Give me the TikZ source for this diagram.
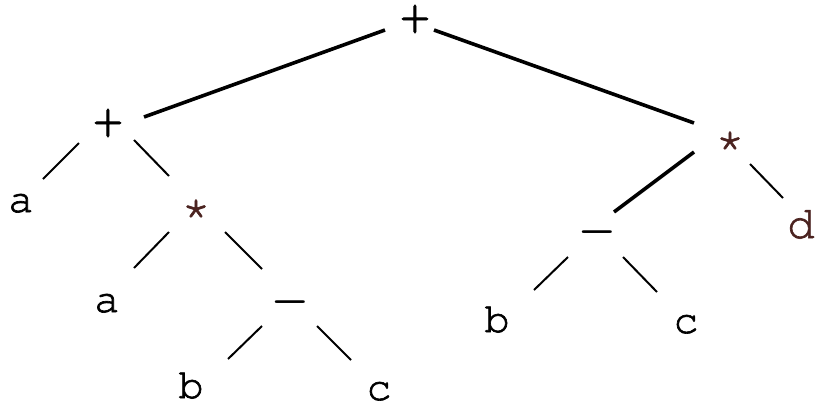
\documentclass[tikz,border=0pt]{standalone}
\usetikzlibrary{calc}
\definecolor{inkbrown}{RGB}{75,35,32}
\newcommand{\courierat}[1]{\fontencoding{T1}\fontfamily{pcr}\fontsize{#1}{#1}\selectfont}
\newcommand{\heavyink}[1]{\special{pdf:literal direct 2 Tr 0.65 w}#1\special{pdf:literal direct 0 Tr}}
\tikzset{
  lbl/.style={inner sep=0pt, anchor=base, font=\courierat{42}},
  oplbl/.style={inner sep=0pt, anchor=base, font=\courierat{57}},
  minuslbl/.style={inner sep=0pt, anchor=base, font=\courierat{66}},
  starlbl/.style={inner sep=0pt, anchor=base, text=inkbrown, font=\courierat{50}},
  biglbl/.style={inner sep=0pt, anchor=base west, text=inkbrown, font=\courierat{46}},
  thinedge/.style={line width=2pt},
  thickedge/.style={line width=3.6pt},
}
\begin{document}
\begin{tikzpicture}[x=1pt,y=-1pt]
\fill[white] (0,0) rectangle (815,405);
\useasboundingbox (0,0) rectangle (815,405);
% nodes (placed by baseline)
\node[oplbl] (root) at (415,35) {\heavyink{+}};
\node[oplbl] (lp) at (108,139) {\heavyink{+}};
\node[lbl] (la) at (21,212) {\heavyink{a}};
\node[starlbl] (ls) at (196,221) {\heavyink{*}};
\node[lbl] (la2) at (107,312) {\heavyink{a}};
\node[minuslbl] (lm) at (290,320) {\textendash};
\node[lbl] (lb) at (191,398) {\heavyink{b}};
\node[lbl] (lc) at (379,400) {\heavyink{c}};
\node[starlbl] (rs) at (730,153) {\heavyink{*}};
\node[minuslbl] (rm) at (597,250) {\textendash};
\node[biglbl] (rd) at (787,238) {\heavyink{d}};
\node[lbl] (rb) at (497,332) {\heavyink{b}};
\node[lbl] (rc) at (686,333) {\heavyink{c}};
% connectors
\draw[thickedge] ($(root.base)+(-30,-5)$) -- ($(lp.base)+(36,-22)$);
\draw[thickedge] ($(root.base)+(19,-5)$) -- ($(rs.base)+(-36,-30)$);
\draw[thinedge] ($(lp.base)+(-29,4)$) -- ($(la.base)+(22,-33)$);
\draw[thinedge] ($(lp.base)+(26,1)$) -- ($(ls.base)+(-27,-45)$);
\draw[thinedge] ($(ls.base)+(-27,11)$) -- ($(la2.base)+(27,-44)$);
\draw[thinedge] ($(ls.base)+(29,11)$) -- ($(lm.base)+(-28,-51)$);
\draw[thinedge] ($(lm.base)+(-28,6)$) -- ($(lb.base)+(37,-39)$);
\draw[thinedge] ($(lm.base)+(27,6)$) -- ($(lc.base)+(-28,-40)$);
\draw[thickedge] ($(rs.base)+(-36,-1)$) -- ($(rm.base)+(17,-38)$);
\draw[thinedge] ($(rs.base)+(20,11)$) -- ($(rd.base west)+(-4,-40)$);
\draw[thinedge] ($(rm.base)+(-29,7)$) -- ($(rb.base)+(37,-42)$);
\draw[thinedge] ($(rm.base)+(26,7)$) -- ($(rc.base)+(-29,-41)$);
\end{tikzpicture}
\end{document}
